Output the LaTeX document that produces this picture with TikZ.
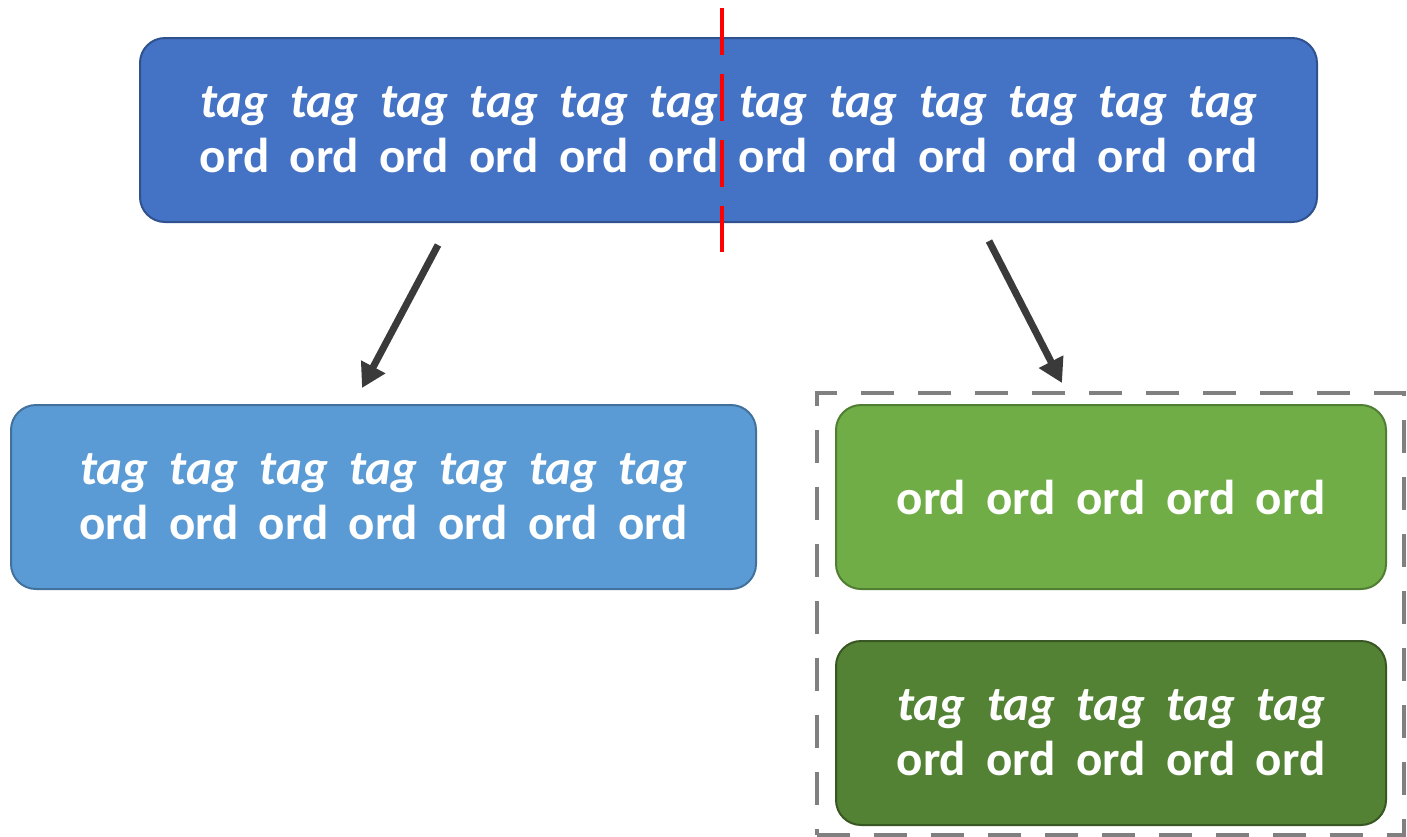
\documentclass[tikz,border=0pt]{standalone}
\usepackage{fontspec}
\setmainfont{Carlito}
\usetikzlibrary{arrows.meta}
\definecolor{topfill}{HTML}{4472C4}
\definecolor{topline}{HTML}{2F528F}
\definecolor{leftfill}{HTML}{5B9BD5}
\definecolor{leftline}{HTML}{41719C}
\definecolor{gfill}{HTML}{70AD47}
\definecolor{gline}{HTML}{507E32}
\definecolor{dgfill}{HTML}{548235}
\definecolor{dgline}{HTML}{385723}
\definecolor{arrowgray}{HTML}{3A3A3A}
\definecolor{groupgray}{HTML}{808080}
\newcommand{\wrd}[1]{\makebox[89.8pt]{#1}}
\newcommand{\tg}{\wrd{\textit{tag}}}
\newcommand{\od}{\wrd{ord}}
\tikzset{
  box/.style={draw, line width=2pt, rounded corners=25pt, text=white,
    font=\fontsize{49}{55}\selectfont\bfseries, align=center, inner sep=0pt,
    anchor=north west},
  arr/.style={draw=arrowgray, line width=7pt, -{Triangle[width=26pt,length=24pt]}},
  cutline/.style={draw=red, line width=4.5pt, dash pattern=on 47pt off 19pt},
  group/.style={draw=groupgray, line width=4pt, dash pattern=on 33pt off 24pt,
    anchor=north west, inner sep=0pt}
}
\begin{document}
\begin{tikzpicture}[x=1pt,y=-1pt]
\useasboundingbox (0,0) rectangle (1407,836);
\node[box, fill=topfill, draw=topline, minimum width=1177pt, minimum height=184pt] (top) at (139,37)
  {\tg\tg\tg\tg\tg\tg\tg\tg\tg\tg\tg\tg\\ \od\od\od\od\od\od\od\od\od\od\od\od};
\coordinate (cutT) at (722,8);
\coordinate (cutB) at (722,252);
\draw[cutline] (cutT) -- (cutB);
\node[box, fill=leftfill, draw=leftline, minimum width=745pt, minimum height=184pt] (left) at (10,404)
  {\tg\tg\tg\tg\tg\tg\tg\\ \od\od\od\od\od\od\od};
\node[group, minimum width=587pt, minimum height=442pt] (grp) at (815,391) {};
\node[box, fill=gfill, draw=gline, minimum width=550pt, minimum height=184pt] (g1) at (835,404)
  {\od\od\od\od\od};
\node[box, fill=dgfill, draw=dgline, minimum width=550pt, minimum height=184pt] (g2) at (835,640)
  {\tg\tg\tg\tg\tg\\ \od\od\od\od\od};
\coordinate (aLs) at (438,245);
\coordinate (aLe) at (362,388);
\coordinate (aRs) at (989,241);
\coordinate (aRe) at (1062,383);
\draw[arr] (aLs) -- (aLe);
\draw[arr] (aRs) -- (aRe);
\end{tikzpicture}
\end{document}
